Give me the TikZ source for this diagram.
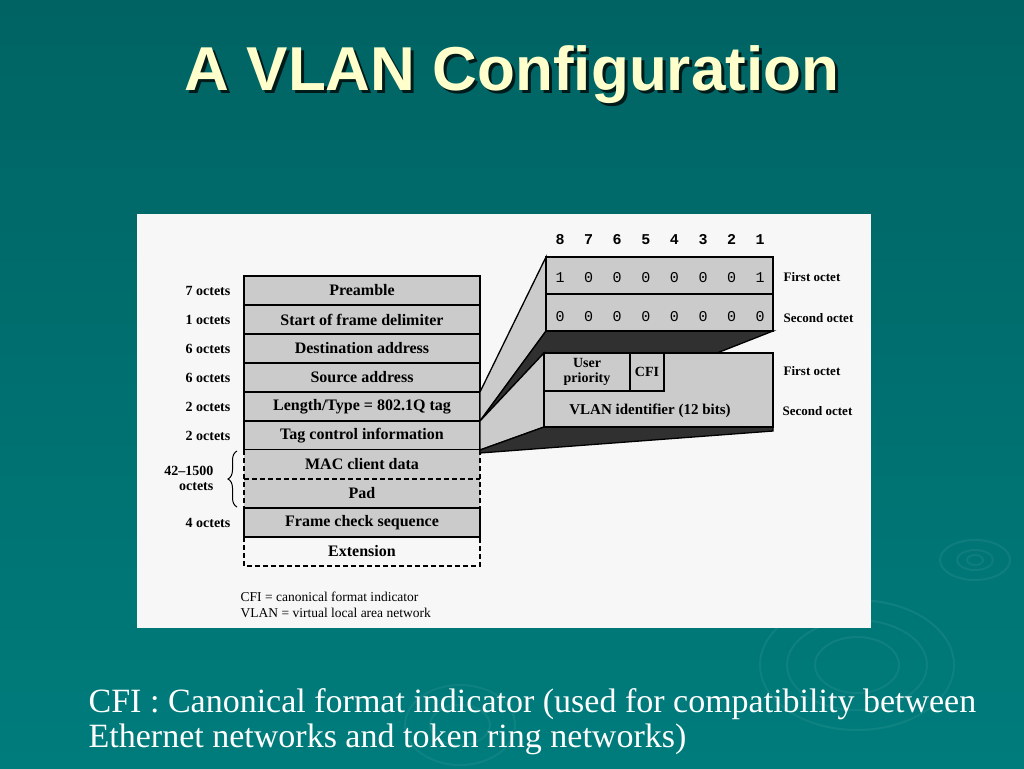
\documentclass[tikz,border=0pt]{standalone}
\usepackage{fontspec}
\setmainfont{Liberation Serif}
\newfontfamily\titlefont{Liberation Sans}
\newfontfamily\bitfont{Liberation Mono}
\usetikzlibrary{positioning}
\usetikzlibrary{decorations.pathreplacing}
\usetikzlibrary{calc}
\definecolor{slidetop}{RGB}{0,99,99}
\definecolor{slidebot}{RGB}{0,124,124}
\definecolor{titlecream}{RGB}{255,255,204}
\definecolor{scangray}{RGB}{203,203,203}
\definecolor{scandark}{RGB}{48,48,48}

\begin{document}
\begin{tikzpicture}
  [x = 1pt, y = -1pt, line width = 1.3pt,
   field/.style = {rectangle, draw, fill = scangray, minimum width = 236pt,
     minimum height = 29pt, inner sep = 0pt, outer sep = 0pt,
     font = \fontsize{16}{18}\selectfont\bfseries},
   size/.style = {inner sep = 0pt, font = \fontsize{14}{15}\selectfont\bfseries},
   bit/.style = {anchor = base, inner sep = 0pt, font = \fontsize{15}{15}\selectfont\bitfont},
   octet/.style = {anchor = west, inner sep = 0pt,
     font = \fontsize{13}{15}\selectfont\bfseries},
   part/.style = {rectangle, draw, fill = scangray, inner sep = 0pt, outer sep = 0pt},
   gap/.style = {dash pattern = on 5pt off 3pt},
   ripple/.style = {draw = white, opacity = 0.06, line width = 2pt}]
  \useasboundingbox (0, 0) rectangle (1024, 768);
  \shade [top color = slidetop, bottom color = slidebot] (0, 0) rectangle (1024, 768);

  \draw [ripple] (975, 560) ellipse [x radius = 8pt, y radius = 5pt];
  \draw [ripple] (975, 560) ellipse [x radius = 18pt, y radius = 10pt];
  \draw [ripple] (975, 560) ellipse [x radius = 35pt, y radius = 20pt];
  \draw [ripple] (857, 665) ellipse [x radius = 42pt, y radius = 28pt];
  \draw [ripple] (857, 665) ellipse [x radius = 70pt, y radius = 45pt];
  \draw [ripple] (857, 665) ellipse [x radius = 97pt, y radius = 65pt];
  \draw [ripple] (460, 725) ellipse [x radius = 30pt, y radius = 20pt];
  \draw [ripple] (460, 725) ellipse [x radius = 55pt, y radius = 40pt];

  \node (shadow) [anchor = base, text = black, opacity = 0.75,
    font = \titlefont\bfseries\fontsize{62}{70}\selectfont] at (515, 93) {A VLAN Configuration};
  \node (title) [anchor = base, text = titlecream,
    font = \titlefont\bfseries\fontsize{62}{70}\selectfont] at (512, 90) {A VLAN Configuration};

  \fill [white!97!black] (137, 214) rectangle (871, 628);

  \node (pre) [field] at (362, 290.5) {Preamble};
  \node (sfd) [field, below = 0pt of pre] {Start of frame delimiter};
  \node (da) [field, below = 0pt of sfd] {Destination address};
  \node (sa) [field, below = 0pt of da] {Source address};
  \node (lt) [field, below = 0pt of sa] {Length/Type = 802.1Q tag};
  \node (tci) [field, below = 0pt of lt] {Tag control information};
  \node (mac) [field, draw = none, below = 0pt of tci] {MAC client data};
  \node (pad) [field, draw = none, below = 0pt of mac] {Pad};
  \node (fcs) [field, below = 0pt of pad] {Frame check sequence};
  \node (ext) [field, draw = none, fill = none, below = 0pt of fcs] {Extension};

  \draw [gap] (mac.north west) -- (pad.south west);
  \draw [gap] (mac.north east) -- (pad.south east);
  \draw [gap] (mac.south west) -- (mac.south east);
  \draw [gap] (ext.north west) -- (ext.south west) -- (ext.south east) -- (ext.north east);

  \node (lpre) [size, left = 13pt of pre] {7 octets};
  \node (lsfd) [size, left = 13pt of sfd] {1 octets};
  \node (lda) [size, left = 13pt of da] {6 octets};
  \node (lsa) [size, left = 13pt of sa] {6 octets};
  \node (llt) [size, left = 13pt of lt] {2 octets};
  \node (ltci) [size, left = 13pt of tci] {2 octets};
  \node (lfcs) [size, left = 13pt of fcs] {4 octets};
  \node (lmac) [size, align = right, anchor = east] at (214, 478) {42--1500\\octets};
  \draw [line width = 1pt, decorate, decoration = {brace, amplitude = 9pt}]
    ($(pad.south west) + (-7, -1)$) -- ($(mac.north west) + (-7, 1)$);

  \node (legend) [anchor = west, align = left, inner sep = 0pt,
    font = \fontsize{13.5}{16}\selectfont] at (240, 605)
    {CFI = canonical format indicator\\VLAN = virtual local area network};

  \node (oct1) [part, draw = none, minimum width = 227pt, minimum height = 37pt] at (659.5, 275.5) {};
  \node (oct2) [part, draw = none, minimum width = 227pt, minimum height = 37pt, below = 0pt of oct1] {};
  \node (tcb) [part, draw = none, minimum width = 229pt, minimum height = 74pt] at (658.5, 390) {};

  \filldraw [fill = scangray] (lt.north east) -- (oct1.north west) -- (oct2.south west)
    -- (lt.south east) -- cycle;
  \filldraw [fill = scandark] (lt.south east) -- (oct2.south west) -- (oct2.south east)
    -- ($(tcb.north west) + (173, 0)$) -- (tcb.north west) -- cycle;
  \filldraw [fill = scangray] (tci.north east) -- (tcb.north west) -- (tcb.south west)
    -- (tci.south east) -- cycle;
  \filldraw [fill = scandark] (tci.south east) -- (tcb.south west) -- (tcb.south east)
    -- ($(tcb.south east) + (0, 4)$) -- ($(tci.south east) + (0, 3)$) -- cycle;

  \node (oct1) [part, minimum width = 227pt, minimum height = 37pt] at (659.5, 275.5) {};
  \node (oct2) [part, minimum width = 227pt, minimum height = 37pt, below = 0pt of oct1] {};
  \node (tcb) [part, minimum width = 229pt, minimum height = 74pt] at (658.5, 390) {};
  \node (prio) [part, minimum width = 86pt, minimum height = 38pt, anchor = north west,
    align = center, font = \fontsize{14}{15}\selectfont\bfseries] at (tcb.north west)
    {User\\priority};
  \node (cfi) [part, minimum width = 34pt, minimum height = 38pt, anchor = north west,
    font = \fontsize{14}{15}\selectfont\bfseries] at (prio.north east) {CFI};
  \node (vid) [inner sep = 0pt, font = \fontsize{15}{15}\selectfont\bfseries]
    at (650, 411) {VLAN identifier (12 bits)};

  \foreach \n [count = \i] in {8, ..., 1}
    \node (pos\i) [bit, font = \fontsize{15}{15}\selectfont\bitfont\bfseries]
      at (531.4 + 28.6 * \i, 244) {\n};
  \foreach \b [count = \i] in {1, 0, 0, 0, 0, 0, 0, 1}
    \node (hi\i) [bit] at (531.4 + 28.6 * \i, 282) {\b};
  \foreach \i in {1, ..., 8}
    \node (lo\i) [bit] at (531.4 + 28.6 * \i, 321) {0};

  \node (f1) [octet] at (783, 277) {First octet};
  \node (s1) [octet] at (783, 318) {Second octet};
  \node (f2) [octet] at (783, 371) {First octet};
  \node (s2) [octet] at (782, 411) {Second octet};

  \node (note1) [anchor = base west, inner sep = 0pt, text = white,
    font = \fontsize{34}{35}\selectfont] at (88, 712)
    {CFI : Canonical format indicator (used for compatibility between};
  \node (note2) [anchor = base west, inner sep = 0pt, text = white,
    font = \fontsize{34}{35}\selectfont] at (88, 747)
    {Ethernet networks and token ring networks)};
\end{tikzpicture}
\end{document}
